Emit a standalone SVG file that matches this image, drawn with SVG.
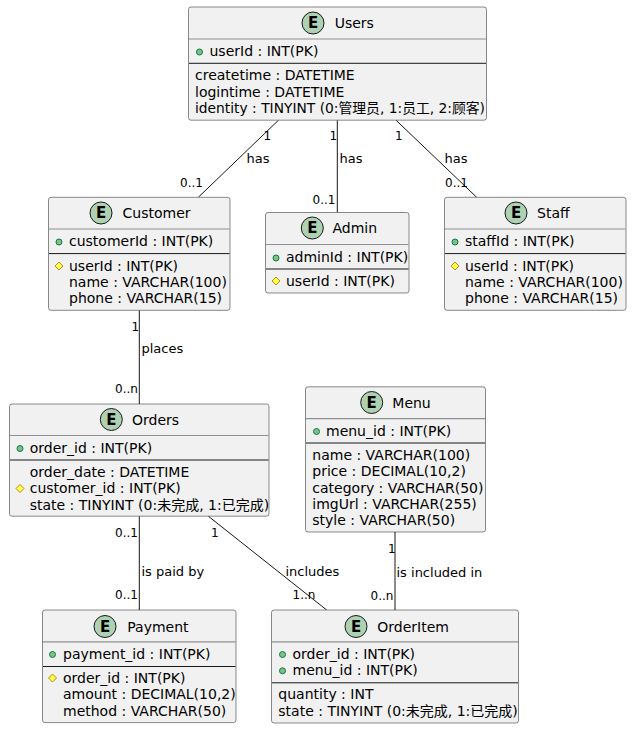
<svg xmlns="http://www.w3.org/2000/svg" width="633" height="730" viewBox="0 0 633 730">
<defs>
<style>
text{font-family:"DejaVu Sans","Noto Sans CJK SC",sans-serif;fill:#000000}
.box{fill:#F1F1F1;stroke:#181818;stroke-width:0.5}
.hs{stroke:#8F8F8F;stroke-width:1.2}
.sp{stroke:#181818;stroke-width:1}
.ec{fill:#ADD1B2;stroke:#181818;stroke-width:1}
.e{font-size:15px;font-weight:bold;text-anchor:middle}
.nm{font-size:14px}
.at{font-size:14px}
.pk{fill:#84BE84;stroke:#038048;stroke-width:1}
.fk{fill:#FFFF44;stroke:#B38D22;stroke-width:1}
.ln{stroke:#181818;stroke-width:1;fill:none}
.lb{font-size:13px}
.mu{font-size:12px}
</style>
</defs>
<rect width="633" height="730" fill="#FFFFFF"/>

<g id="connectors">
<line class="ln" x1="278.5" y1="120.2" x2="198.3" y2="197.3"/>
<line class="ln" x1="337.3" y1="120.2" x2="337.3" y2="212.5"/>
<line class="ln" x1="396" y1="120.2" x2="476.7" y2="197.3"/>
<line class="ln" x1="139.3" y1="310.3" x2="139.3" y2="404"/>
<line class="ln" x1="139.3" y1="516.2" x2="139.3" y2="610"/>
<line class="ln" x1="208.3" y1="516.2" x2="326.7" y2="610"/>
<line class="ln" x1="395" y1="532" x2="395" y2="610"/>
<text class="mu" x="263.5" y="140">1</text>
<text class="lb" x="246.5" y="162.5">has</text>
<text class="mu" x="180" y="186.5">0..1</text>
<text class="mu" x="329.5" y="140">1</text>
<text class="lb" x="339.5" y="162.5">has</text>
<text class="mu" x="312.5" y="204">0..1</text>
<text class="mu" x="395" y="140">1</text>
<text class="lb" x="444.5" y="162.5">has</text>
<text class="mu" x="445" y="186.5">0..1</text>
<text class="mu" x="131.5" y="330.5">1</text>
<text class="lb" x="141.5" y="352.5">places</text>
<text class="mu" x="115" y="392.5">0..n</text>
<text class="mu" x="115" y="536.5">0..1</text>
<text class="lb" x="141.5" y="576">is paid by</text>
<text class="mu" x="115" y="599">0..1</text>
<text class="mu" x="211" y="536.5">1</text>
<text class="lb" x="285.5" y="576">includes</text>
<text class="mu" x="292.5" y="599">1..n</text>
<text class="mu" x="388" y="552.5">1</text>
<text class="lb" x="396.5" y="576.5">is included in</text>
<text class="mu" x="370.5" y="600">0..n</text>
</g>

<g id="Users">
<rect class="box" x="188.5" y="7" width="298" height="113.2" rx="2.5"/>
<circle class="ec" cx="313" cy="23" r="11"/>
<text class="e" x="313" y="28.4">E</text>
<text class="nm" x="334.7" y="28.2">Users</text>
<line class="hs" x1="189" y1="39" x2="486" y2="39"/>
<circle class="pk" cx="199.5" cy="52" r="3"/>
<text class="at" x="209.5" y="56.3">userId : INT(PK)</text>
<line class="sp" x1="189" y1="63.3" x2="486" y2="63.3"/>
<text class="at" x="195" y="80.3">createtime : DATETIME</text>
<text class="at" x="195" y="96.6">logintime : DATETIME</text>
<text class="at" x="195" y="112.9" textLength="290" lengthAdjust="spacingAndGlyphs">identity : TINYINT (0:管理员, 1:员工, 2:顾客)</text>
</g>

<g id="Customer">
<rect class="box" x="48.5" y="197.3" width="181.5" height="113" rx="2.5"/>
<circle class="ec" cx="101" cy="213" r="11"/>
<text class="e" x="101" y="218.4">E</text>
<text class="nm" x="122.5" y="218.2">Customer</text>
<line class="hs" x1="49" y1="229" x2="229.5" y2="229"/>
<circle class="pk" cx="59" cy="242" r="3"/>
<text class="at" x="69" y="246.2">customerId : INT(PK)</text>
<line class="sp" x1="49" y1="253.6" x2="229.5" y2="253.6"/>
<polygon class="fk" points="59,262 63,266 59,270 55,266"/>
<text class="at" x="69" y="270.6">userId : INT(PK)</text>
<text class="at" x="69" y="286.9">name : VARCHAR(100)</text>
<text class="at" x="69" y="303.2">phone : VARCHAR(15)</text>
</g>

<g id="Admin">
<rect class="box" x="265.5" y="212.5" width="143.5" height="80.5" rx="2.5"/>
<circle class="ec" cx="312.3" cy="228" r="11"/>
<text class="e" x="312.3" y="233.4">E</text>
<text class="nm" x="332.5" y="233.2">Admin</text>
<line class="hs" x1="266" y1="244.5" x2="408.5" y2="244.5"/>
<circle class="pk" cx="276" cy="258" r="3"/>
<text class="at" x="286" y="262.2">adminId : INT(PK)</text>
<line class="sp" x1="266" y1="269" x2="408.5" y2="269"/>
<polygon class="fk" points="276,277 280,281 276,285 272,281"/>
<text class="at" x="286" y="285.7">userId : INT(PK)</text>
</g>

<g id="Staff">
<rect class="box" x="444.5" y="197.3" width="181.5" height="113" rx="2.5"/>
<circle class="ec" cx="516" cy="213" r="11"/>
<text class="e" x="516" y="218.4">E</text>
<text class="nm" x="537" y="218.2">Staff</text>
<line class="hs" x1="445" y1="229" x2="625.5" y2="229"/>
<circle class="pk" cx="455" cy="242" r="3"/>
<text class="at" x="465" y="246.2">staffId : INT(PK)</text>
<line class="sp" x1="445" y1="253.6" x2="625.5" y2="253.6"/>
<polygon class="fk" points="455,262 459,266 455,270 451,266"/>
<text class="at" x="465" y="270.6">userId : INT(PK)</text>
<text class="at" x="465" y="286.9">name : VARCHAR(100)</text>
<text class="at" x="465" y="303.2">phone : VARCHAR(15)</text>
</g>

<g id="Orders">
<rect class="box" x="9.5" y="404" width="259.5" height="112.2" rx="2.5"/>
<circle class="ec" cx="111.3" cy="419.5" r="11"/>
<text class="e" x="111.3" y="424.9">E</text>
<text class="nm" x="132" y="424.7">Orders</text>
<line class="hs" x1="10" y1="435.5" x2="268.5" y2="435.5"/>
<circle class="pk" cx="20" cy="448.5" r="3"/>
<text class="at" x="29.7" y="452.7">order_id : INT(PK)</text>
<line class="sp" x1="10" y1="460" x2="268.5" y2="460"/>
<text class="at" x="29.7" y="477">order_date : DATETIME</text>
<polygon class="fk" points="20,484.5 24,488.5 20,492.5 16,488.5"/>
<text class="at" x="29.7" y="493.3">customer_id : INT(PK)</text>
<text class="at" x="29.7" y="509.6">state : TINYINT (0:未完成, 1:已完成)</text>
</g>

<g id="Menu">
<rect class="box" x="305.5" y="386.8" width="180" height="145.2" rx="2.5"/>
<circle class="ec" cx="371.7" cy="402.5" r="11"/>
<text class="e" x="371.7" y="407.9">E</text>
<text class="nm" x="392.3" y="407.7">Menu</text>
<line class="hs" x1="306" y1="418.6" x2="485" y2="418.6"/>
<circle class="pk" cx="316.5" cy="431.5" r="3"/>
<text class="at" x="326" y="435.8">menu_id : INT(PK)</text>
<line class="sp" x1="306" y1="443" x2="485" y2="443"/>
<text class="at" x="312.3" y="460">name : VARCHAR(100)</text>
<text class="at" x="312.3" y="476.3">price : DECIMAL(10,2)</text>
<text class="at" x="312.3" y="492.6">category : VARCHAR(50)</text>
<text class="at" x="312.3" y="508.9">imgUrl : VARCHAR(255)</text>
<text class="at" x="312.3" y="525.2">style : VARCHAR(50)</text>
</g>

<g id="Payment">
<rect class="box" x="42.5" y="610" width="193.5" height="112.6" rx="2.5"/>
<circle class="ec" cx="105" cy="626.5" r="11"/>
<text class="e" x="105" y="631.9">E</text>
<text class="nm" x="127.3" y="631.7">Payment</text>
<line class="hs" x1="43" y1="641.8" x2="235.5" y2="641.8"/>
<circle class="pk" cx="52.5" cy="654.5" r="3"/>
<text class="at" x="63" y="658.8">payment_id : INT(PK)</text>
<line class="sp" x1="43" y1="666.5" x2="235.5" y2="666.5"/>
<polygon class="fk" points="52.5,674 56.5,678 52.5,682 48.5,678"/>
<text class="at" x="63" y="683">order_id : INT(PK)</text>
<text class="at" x="63" y="699.3">amount : DECIMAL(10,2)</text>
<text class="at" x="63" y="715.6">method : VARCHAR(50)</text>
</g>

<g id="OrderItem">
<rect class="box" x="271.5" y="610" width="247" height="113" rx="2.5"/>
<circle class="ec" cx="356" cy="626.5" r="11"/>
<text class="e" x="356" y="631.9">E</text>
<text class="nm" x="377.3" y="631.7">OrderItem</text>
<line class="hs" x1="272" y1="641.8" x2="518" y2="641.8"/>
<circle class="pk" cx="282.5" cy="654.5" r="3"/>
<text class="at" x="292.5" y="658.8">order_id : INT(PK)</text>
<circle class="pk" cx="282.5" cy="670.8" r="3"/>
<text class="at" x="292.5" y="675.1">menu_id : INT(PK)</text>
<line class="sp" x1="272" y1="682.8" x2="518" y2="682.8"/>
<text class="at" x="278.3" y="699.3">quantity : INT</text>
<text class="at" x="278.3" y="715.6">state : TINYINT (0:未完成, 1:已完成)</text>
</g>
</svg>
